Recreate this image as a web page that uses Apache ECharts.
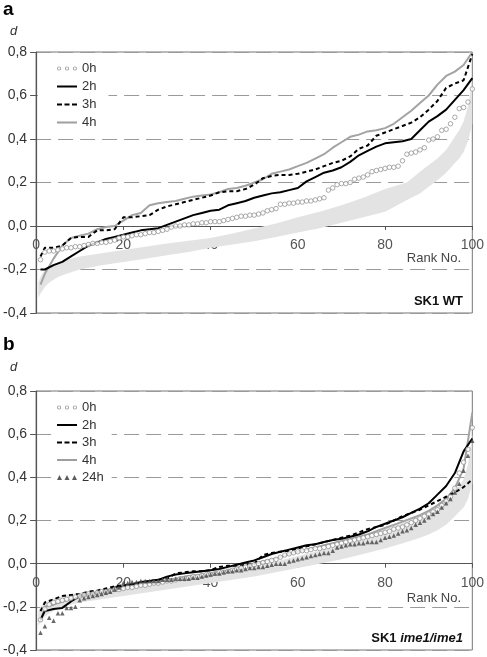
<!DOCTYPE html>
<html><head><meta charset="utf-8">
<script src="https://cdn.jsdelivr.net/npm/echarts@6/dist/echarts.min.js"></script>
<style>html,body{margin:0;padding:0;background:#fff}#c{width:487px;height:657px}</style>
</head><body><div id="c"></div>
<script>
// ---------- ranks ----------
const lineRanks = [1,2,4,6,8,10,12,14,16,18,20,22,24,26,28,30,32,34,36,38,40,42,44,46,48,50,52,54,56,58,60,62,64,66,68,70,72,74,76,78,80,82,84,86,88,90,92,94,96,98,100];
const markerRanks = Array.from({length:100}, (_, i) => i + 1);
const bandRanks = [0.5,1,2,3,5,7,10,15,20,25,30,35,40,45,50,55,60,65,70,75,80,85,88,90,92,94,96,97,98,99,100];
const xTicks = [0,20,40,60,80,100];
const yTicks = [-0.4,-0.2,0,0.2,0.4,0.6,0.8];

// ---------- panel a: SK1 WT ----------
const a_2h = [-0.20,-0.20,-0.18,-0.165,-0.14,-0.115,-0.09,-0.075,-0.06,-0.05,-0.04,-0.03,-0.02,-0.015,-0.01,0.005,0.02,0.035,0.05,0.06,0.07,0.075,0.095,0.105,0.115,0.13,0.14,0.15,0.155,0.165,0.175,0.205,0.225,0.245,0.255,0.27,0.295,0.325,0.345,0.365,0.38,0.385,0.39,0.40,0.44,0.48,0.505,0.535,0.58,0.625,0.68];
const a_3h = [-0.14,-0.10,-0.10,-0.09,-0.055,-0.05,-0.05,-0.02,-0.02,-0.015,0.04,0.04,0.045,0.05,0.075,0.09,0.10,0.11,0.12,0.13,0.14,0.155,0.16,0.16,0.17,0.19,0.22,0.23,0.235,0.235,0.24,0.25,0.26,0.275,0.29,0.30,0.32,0.355,0.37,0.415,0.43,0.445,0.46,0.475,0.50,0.535,0.575,0.635,0.655,0.67,0.79];
const a_4h = [-0.27,-0.22,-0.15,-0.09,-0.055,-0.045,-0.035,-0.015,-0.005,0.0,0.025,0.05,0.06,0.095,0.105,0.11,0.115,0.125,0.135,0.14,0.145,0.155,0.17,0.175,0.185,0.20,0.215,0.24,0.25,0.26,0.275,0.29,0.31,0.33,0.36,0.385,0.41,0.42,0.435,0.44,0.45,0.47,0.50,0.53,0.565,0.60,0.65,0.69,0.71,0.74,0.80];
const a_0h = [-0.155,-0.12,-0.115,-0.115,-0.11,-0.105,-0.10,-0.10,-0.095,-0.095,-0.09,-0.085,-0.08,-0.08,-0.075,-0.075,-0.07,-0.065,-0.055,-0.05,
  -0.05,-0.045,-0.04,-0.04,-0.035,-0.03,-0.03,-0.025,-0.02,-0.015,-0.005,0.0,0.0,0.005,0.005,0.01,0.01,0.015,0.015,0.02,
  0.02,0.02,0.025,0.03,0.035,0.04,0.045,0.045,0.05,0.05,0.055,0.06,0.07,0.075,0.08,0.10,0.10,0.105,0.105,0.11,
  0.11,0.115,0.115,0.12,0.125,0.13,0.165,0.175,0.19,0.195,0.195,0.20,0.215,0.22,0.225,0.235,0.25,0.255,0.26,0.265,
  0.27,0.27,0.275,0.30,0.33,0.335,0.34,0.35,0.36,0.395,0.40,0.41,0.44,0.445,0.47,0.50,0.54,0.545,0.57,0.63];
const a_bandLow = [-0.33,-0.31,-0.28,-0.26,-0.235,-0.22,-0.20,-0.18,-0.165,-0.15,-0.135,-0.12,-0.10,-0.085,-0.07,-0.05,-0.03,-0.01,0.015,0.04,0.065,0.12,0.15,0.18,0.21,0.245,0.29,0.31,0.34,0.39,0.47];
const a_bandHigh = [-0.26,-0.235,-0.20,-0.185,-0.165,-0.155,-0.14,-0.125,-0.11,-0.095,-0.08,-0.068,-0.055,-0.035,-0.012,0.012,0.04,0.065,0.095,0.13,0.17,0.20,0.25,0.28,0.31,0.35,0.41,0.44,0.48,0.55,0.67];

// ---------- panel b: SK1 ime1/ime1 ----------
const b_2h = [-0.26,-0.22,-0.21,-0.205,-0.175,-0.15,-0.14,-0.135,-0.13,-0.11,-0.105,-0.095,-0.085,-0.08,-0.075,-0.06,-0.05,-0.045,-0.04,-0.035,-0.03,-0.025,-0.015,-0.005,0.005,0.015,0.03,0.045,0.055,0.065,0.075,0.085,0.09,0.10,0.11,0.115,0.125,0.135,0.15,0.17,0.185,0.20,0.215,0.235,0.255,0.28,0.32,0.36,0.42,0.52,0.58];
const b_3h = [-0.22,-0.18,-0.165,-0.15,-0.145,-0.14,-0.13,-0.125,-0.115,-0.105,-0.10,-0.095,-0.09,-0.08,-0.075,-0.07,-0.045,-0.04,-0.035,-0.035,-0.03,-0.015,-0.01,-0.01,-0.005,0.0,0.04,0.05,0.055,0.06,0.07,0.08,0.09,0.10,0.11,0.12,0.13,0.145,0.16,0.17,0.18,0.20,0.22,0.235,0.25,0.27,0.29,0.31,0.33,0.355,0.39];
const b_4h = [-0.27,-0.20,-0.19,-0.175,-0.165,-0.155,-0.145,-0.135,-0.125,-0.12,-0.11,-0.105,-0.095,-0.09,-0.085,-0.075,-0.07,-0.06,-0.055,-0.05,-0.045,-0.04,-0.03,-0.02,-0.01,0.0,0.01,0.02,0.03,0.045,0.055,0.065,0.075,0.085,0.095,0.105,0.115,0.125,0.135,0.15,0.165,0.18,0.195,0.21,0.225,0.245,0.27,0.30,0.35,0.44,0.70];
const b_0h = [-0.26,-0.21,-0.19,-0.18,-0.175,-0.17,-0.165,-0.16,-0.155,-0.15,-0.145,-0.14,-0.14,-0.135,-0.13,-0.13,-0.125,-0.12,-0.12,-0.115,
  -0.11,-0.11,-0.105,-0.10,-0.10,-0.095,-0.09,-0.09,-0.085,-0.08,-0.08,-0.075,-0.07,-0.07,-0.065,-0.06,-0.06,-0.055,-0.05,-0.05,
  -0.045,-0.04,-0.04,-0.035,-0.03,-0.025,-0.02,-0.015,-0.01,-0.005,0.0,0.005,0.01,0.015,0.02,0.03,0.04,0.045,0.05,0.055,
  0.06,0.06,0.065,0.07,0.07,0.075,0.08,0.085,0.09,0.095,0.10,0.105,0.11,0.115,0.12,0.125,0.13,0.135,0.14,0.145,
  0.15,0.16,0.165,0.17,0.18,0.19,0.20,0.21,0.22,0.23,0.24,0.25,0.27,0.29,0.31,0.35,0.42,0.47,0.53,0.63];
const b_24h = [-0.32,-0.29,-0.25,-0.265,-0.23,-0.23,-0.205,-0.205,-0.20,-0.17,-0.16,-0.155,-0.15,-0.145,-0.14,-0.135,-0.13,-0.12,-0.11,-0.09,
  -0.09,-0.085,-0.085,-0.08,-0.08,-0.08,-0.08,-0.08,-0.075,-0.075,-0.075,-0.07,-0.07,-0.07,-0.07,-0.065,-0.065,-0.06,-0.055,-0.05,
  -0.045,-0.045,-0.04,-0.035,-0.035,-0.03,-0.03,-0.025,-0.02,-0.02,-0.015,-0.015,-0.01,-0.005,0.0,0.0,0.0,0.01,0.015,0.02,
  0.025,0.03,0.035,0.04,0.045,0.05,0.05,0.06,0.075,0.08,0.085,0.09,0.09,0.095,0.095,0.10,0.10,0.10,0.11,0.12,
  0.125,0.13,0.14,0.15,0.155,0.165,0.18,0.19,0.20,0.215,0.23,0.24,0.26,0.28,0.30,0.33,0.37,0.43,0.50,0.57];
const b_bandLow = [-0.29,-0.27,-0.245,-0.23,-0.21,-0.195,-0.18,-0.165,-0.15,-0.135,-0.12,-0.105,-0.09,-0.075,-0.06,-0.04,-0.02,0.0,0.02,0.045,0.07,0.10,0.12,0.135,0.155,0.18,0.22,0.24,0.26,0.30,0.37];
const b_bandHigh = [-0.22,-0.20,-0.18,-0.17,-0.155,-0.145,-0.135,-0.12,-0.105,-0.09,-0.075,-0.06,-0.045,-0.03,-0.01,0.01,0.035,0.06,0.09,0.125,0.16,0.20,0.23,0.25,0.27,0.30,0.34,0.36,0.39,0.46,0.60];

// ---------- build ----------
const FONT = 'Liberation Sans, Arial, sans-serif';
const pair = (xs, ys) => xs.map((x, i) => [x, ys[i]]);
const ringAt = (cx, cy) => `M${cx-2},${cy} A2,2 0 1,0 ${cx+2},${cy} A2,2 0 1,0 ${cx-2},${cy} Z M${cx-1.1},${cy} A1.1,1.1 0 1,1 ${cx+1.1},${cy} A1.1,1.1 0 1,1 ${cx-1.1},${cy} Z`;
const ICON_RINGS = 'path://' + ringAt(2.5,2.5) + ' ' + ringAt(10,2.5) + ' ' + ringAt(17.5,2.5);
const ICON_LINE = 'path://M0,0H20V2H0Z';
const ICON_DASH = 'path://M0,0H5V2H0Z M7.5,0H12.5V2H7.5Z M15,0H20V2H15Z';
const ICON_TRI = 'path://M0,5L2.5,0L5,5Z M7.5,5L10,0L12.5,5Z M15,5L17.5,0L20,5Z';

function axes(i, zeroOffset) {
  return {
    x: {
      type: 'value', gridIndex: i, min: 0, max: 100, interval: 20, position: 'bottom', offset: zeroOffset,
      axisLine: { onZero: false, lineStyle: { color: '#555', width: 1.2 } },
      axisTick: { show: true, length: 4, lineStyle: { color: '#555' } },
      axisLabel: { fontSize: 14, color: '#555', fontFamily: FONT, margin: 12 },
      splitLine: { show: false }
    },
    y: {
      type: 'value', gridIndex: i, min: -0.4, max: 0.8, interval: 0.2,
      axisLine: { show: true, onZero: false, lineStyle: { color: '#555', width: 1.2 } },
      axisTick: { show: true, length: 6, lineStyle: { color: '#555' } },
      axisLabel: { fontSize: 14, color: '#333', fontFamily: FONT, margin: 9,
        formatter: v => (Math.abs(v) < 1e-9 ? 0 : v).toFixed(1).replace('.', ',') },
      splitLine: { show: true, lineStyle: { color: '#9a9a9a', width: 1.2, type: [15, 7] } }
    }
  };
}
// offset moves the x axis from the grid bottom (-0.4) up to the zero line
const ax0 = axes(0, -87), ax1 = axes(1, -86.3);

function band(i, low, high) {
  return {
    type: 'custom', xAxisIndex: i, yAxisIndex: i, silent: true, z: 1,
    data: bandRanks.map((r, k) => [r, low[k], high[k]]),
    encode: { x: 0, y: [1, 2] },
    renderItem: (params, api) => {
      if (params.dataIndex !== 0) return { type: 'group', children: [] };
      const pts = [];
      for (let k = 0; k < bandRanks.length; k++) pts.push(api.coord([bandRanks[k], low[k]]));
      for (let k = bandRanks.length - 1; k >= 0; k--) pts.push(api.coord([bandRanks[k], high[k]]));
      return { type: 'polygon', shape: { points: pts }, style: { fill: '#e3e3e3', stroke: null } };
    }
  };
}
function lineS(i, name, ys, color, type) {
  return { name, type: 'line', xAxisIndex: i, yAxisIndex: i, data: pair(lineRanks, ys), symbol: 'none',
    lineStyle: { color, width: 2, type: type || 'solid' }, itemStyle: { color }, z: 3 };
}
function markS(i, name, ys, symbol, color, size) {
  const filled = symbol === 'triangle';
  return { name, type: 'scatter', xAxisIndex: i, yAxisIndex: i, data: pair(markerRanks, ys), symbol, symbolSize: size,
    itemStyle: filled ? { color } : { color: '#fff', borderColor: color, borderWidth: 0.9 }, z: 4 };
}
function legendItems(with24) {
  const items = [
    { name: '0h', icon: ICON_RINGS, itemStyle: { color: '#8a8a8a', borderWidth: 0 } },
    { name: '2h', icon: ICON_LINE, itemStyle: { color: '#000', borderWidth: 0 } },
    { name: '3h', icon: ICON_DASH, itemStyle: { color: '#000', borderWidth: 0 } },
    { name: '4h', icon: ICON_LINE, itemStyle: { color: '#9e9e9e', borderWidth: 0 } }
  ];
  if (with24) items.push({ name: '24h', icon: ICON_TRI, itemStyle: { color: '#333', borderWidth: 0 } });
  return items;
}
const legendBase = {
  orient: 'vertical', backgroundColor: '#fff', itemWidth: 20, itemHeight: 6, itemGap: 3,
  textStyle: { fontSize: 13, color: '#333', fontFamily: FONT, lineHeight: 15 }, selectedMode: false
};

const option = {
  animation: false,
  backgroundColor: '#fff',
  grid: [
    { left: 36, top: 52, width: 437, height: 261, show: true, borderColor: '#777', borderWidth: 1 },
    { left: 36, top: 391, width: 437, height: 259, show: true, borderColor: '#777', borderWidth: 1 }
  ],
  xAxis: [ax0.x, ax1.x],
  yAxis: [ax0.y, ax1.y],
  legend: [
    Object.assign({}, legendBase, { left: 38, top: 58, padding: [3, 12, 3, 19], data: legendItems(false) }),
    Object.assign({}, legendBase, { left: 52, top: 397, padding: [3, 8, 3, 5], itemGap: 2.5, data: legendItems(true) })
  ],
  series: [
    band(0, a_bandLow, a_bandHigh),
    markS(0, '0h', a_0h, 'circle', '#8a8a8a', 4.5),
    lineS(0, '4h', a_4h, '#a3a3a3'),
    lineS(0, '2h', a_2h, '#000'),
    lineS(0, '3h', a_3h, '#000', [4, 3]),
    band(1, b_bandLow, b_bandHigh),
    markS(1, '0h', b_0h, 'circle', '#8a8a8a', 4.5),
    lineS(1, '4h', b_4h, '#a3a3a3'),
    lineS(1, '2h', b_2h, '#000'),
    lineS(1, '3h', b_3h, '#000', [4, 3]),
    markS(1, '24h', b_24h, 'triangle', '#444', 4.5)
  ],
  graphic: [
    { type: 'text', x: 3, y: 0, style: { text: 'a', fontSize: 19, fontWeight: 'bold', fontFamily: FONT, fill: '#000' } },
    { type: 'text', x: 10, y: 25, style: { text: 'd', fontSize: 13, fontStyle: 'italic', fontFamily: FONT, fill: '#333' } },
    { type: 'text', x: 3, y: 335, style: { text: 'b', fontSize: 19, fontWeight: 'bold', fontFamily: FONT, fill: '#000' } },
    { type: 'text', x: 10, y: 361, style: { text: 'd', fontSize: 13, fontStyle: 'italic', fontFamily: FONT, fill: '#333' } },
    { type: 'text', x: 461, y: 258, style: { text: 'Rank No.', fontSize: 13, fontFamily: FONT, fill: '#444', align: 'right', verticalAlign: 'middle' } },
    { type: 'text', x: 463, y: 301, style: { text: 'SK1 WT', fontSize: 13, fontWeight: 'bold', fontFamily: FONT, fill: '#111', align: 'right', verticalAlign: 'middle' } },
    { type: 'text', x: 461, y: 598, style: { text: 'Rank No.', fontSize: 13, fontFamily: FONT, fill: '#444', align: 'right', verticalAlign: 'middle' } },
    { type: 'text', x: 463, y: 638, style: { text: '{b|SK1 }{i|ime1/ime1}', align: 'right', verticalAlign: 'middle',
      rich: { b: { fontSize: 13, fontWeight: 'bold', fontFamily: FONT, fill: '#111' },
              i: { fontSize: 13, fontWeight: 'bold', fontStyle: 'italic', fontFamily: FONT, fill: '#111' } } } }
  ]
};
const chart = echarts.init(document.getElementById('c'), null, { renderer: 'canvas' });
chart.setOption(option);
</script></body></html>
